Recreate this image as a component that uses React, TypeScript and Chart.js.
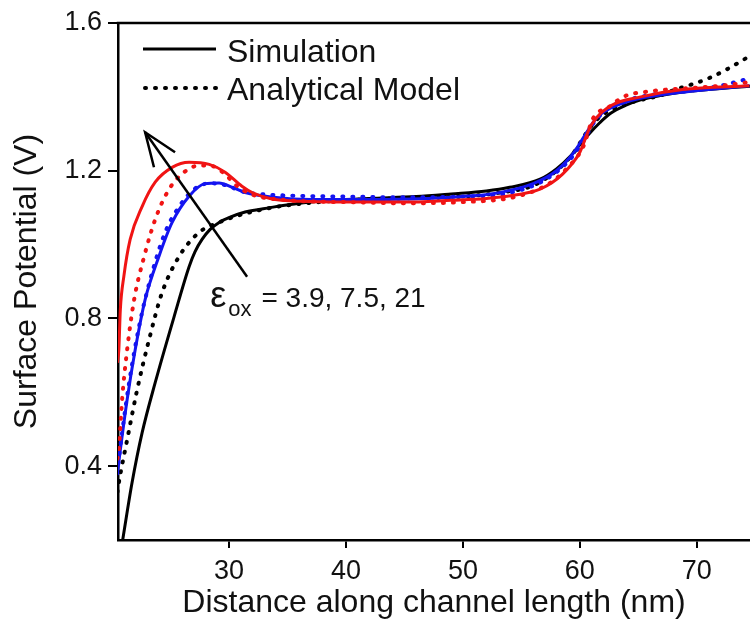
import React, { useEffect, useRef } from "react";
import { Chart, registerables } from "chart.js";

Chart.register(...registerables);

// ---- axis setup ----
const xTickValues = [30, 40, 50, 60, 70];
const yTickValues = [0.4, 0.8, 1.2, 1.6];
const xMin = 20.5;
const xMax = 74.55;
const yMin = 0.2;
const yMax = 1.6;
const xTitle = "Distance along channel length (nm)";
const yTitle = "Surface Potential (V)";
const legendLabels = ["Simulation", "Analytical Model"];
const annotationSymbol = "ε";
const annotationSub = "ox";
const annotationValues = "= 3.9, 7.5, 21";
// arrow (data coordinates): tail -> tip
const arrowTail = [31.54, 0.913];
const arrowTip = [22.82, 1.304];
const annotationAnchor = [28.38, 0.832];

// ---- series: [x (nm), surface potential (V)] ----
const sim39: number[][] = [
  [20.9, 0.2], [21.7, 0.355], [22.56, 0.49], [23.68, 0.626], [25.3, 0.805], [26.58, 0.94],
  [27.09, 0.981], [27.69, 1.014], [28.38, 1.041], [29.15, 1.06], [30.09, 1.074], [31.37, 1.088],
  [33.5, 1.1], [36.0, 1.112], [38.9, 1.12],
  [42.0, 1.125], [46.0, 1.13], [49.0, 1.137], [52.0, 1.145], [54.0, 1.155], [56.6, 1.177],
  [58.0, 1.205], [59.2, 1.24], [60.0, 1.27], [60.8, 1.3], [61.7, 1.33], [62.6, 1.355],
  [64.0, 1.378], [65.2, 1.392], [67.0, 1.404], [69.0, 1.414], [71.0, 1.42], [73.0, 1.425],
  [75.0, 1.43],
];
const model39: number[][] = [
  [20.45, 0.33], [20.57, 0.355], [21.28, 0.471], [22.14, 0.607], [23.16, 0.743], [24.27, 0.87],
  [25.73, 0.968], [27.44, 1.033], [29.15, 1.06], [30.5, 1.076], [33.3, 1.098], [36.0, 1.11],
  [40.0, 1.12], [45.0, 1.125], [50.0, 1.13], [53.0, 1.14], [56.0, 1.16], [58.0, 1.2],
  [59.5, 1.25], [60.5, 1.3], [61.5, 1.34], [63.0, 1.37], [65.0, 1.39], [67.0, 1.405],
  [68.0, 1.418], [69.4, 1.432], [71.0, 1.45], [72.6, 1.475], [74.5, 1.51],
];
const sim75: number[][] = [
  [20.45, 0.38], [20.7, 0.444], [21.28, 0.58], [21.97, 0.715], [22.82, 0.851], [24.0, 0.968],
  [25.13, 1.06], [26.58, 1.131], [27.95, 1.165], [29.15, 1.167], [30.26, 1.155], [31.37, 1.141],
  [33.8, 1.128], [37.0, 1.122], [42.0, 1.122], [47.0, 1.125], [50.0, 1.13], [53.0, 1.14],
  [56.0, 1.165], [58.0, 1.2], [59.5, 1.25], [60.5, 1.3], [61.5, 1.345], [63.0, 1.375],
  [65.0, 1.395], [68.0, 1.41], [71.0, 1.42], [74.5, 1.43],
];
const model75: number[][] = [
  [20.43, 0.38], [20.85, 0.49], [21.45, 0.626], [22.3, 0.778], [23.25, 0.905], [24.53, 1.033],
  [25.73, 1.103], [27.1, 1.152], [28.4, 1.166], [29.8, 1.16], [31.2, 1.143], [33.0, 1.136],
  [36.0, 1.132], [40.0, 1.13], [45.0, 1.128], [50.0, 1.13], [54.0, 1.14], [57.0, 1.175],
  [59.0, 1.225], [60.3, 1.28], [61.2, 1.33], [62.5, 1.37], [64.0, 1.39], [66.0, 1.405],
  [69.0, 1.415], [72.0, 1.43], [74.5, 1.45],
];
const sim21: number[][] = [
  [20.45, 0.68], [20.57, 0.715], [20.7, 0.824], [21.0, 0.914], [21.54, 1.014], [22.56, 1.103],
  [23.68, 1.169], [25.13, 1.209], [26.58, 1.223], [28.3, 1.217], [29.66, 1.196], [31.1, 1.158],
  [31.97, 1.141], [33.5, 1.125], [36.1, 1.117], [40.0, 1.115], [45.0, 1.115], [49.0, 1.12],
  [52.0, 1.125], [54.6, 1.135], [56.6, 1.15], [58.5, 1.19], [60.0, 1.25], [60.9, 1.32],
  [62.6, 1.375], [65.2, 1.4], [68.8, 1.42], [74.5, 1.43],
];
const model21: number[][] = [
  [20.45, 0.42], [20.57, 0.444], [20.85, 0.58], [21.28, 0.715], [21.88, 0.851], [22.74, 0.968],
  [23.68, 1.068], [24.87, 1.15], [26.15, 1.196], [27.44, 1.214], [28.5, 1.213], [29.6, 1.192],
  [30.7, 1.158], [32.0, 1.135], [35.0, 1.12], [40.0, 1.115], [45.0, 1.112], [50.0, 1.115],
  [54.6, 1.13], [57.5, 1.168], [59.0, 1.21], [60.3, 1.266], [61.1, 1.34], [62.6, 1.375],
  [63.7, 1.4], [66.0, 1.415], [70.0, 1.425], [72.0, 1.43], [74.5, 1.44],
];

const RED = "#f01414";
const BLUE = "#1414f0";
const BLACK = "#000000";
const FONT = "'Liberation Sans', Arial, Helvetica, sans-serif";
const DOT_DASH = [1, 9];

const toPts = (arr: number[][]) => arr.map(([x, y]) => ({ x, y }));

const overlayPlugin = {
  id: "overlay",
  afterDraw(chart: any) {
    const { ctx, chartArea, scales } = chart;
    const sx = scales.x;
    const sy = scales.y;
    ctx.save();
    // top frame line
    ctx.strokeStyle = BLACK;
    ctx.lineWidth = 2.5;
    ctx.beginPath();
    ctx.moveTo(chartArea.left - 1.25, chartArea.top);
    ctx.lineTo(chartArea.right, chartArea.top);
    ctx.stroke();

    // legend
    const lx0 = chartArea.left + 25;
    const lx1 = chartArea.left + 98;
    const ly0 = chartArea.top + 26;
    const ly1 = chartArea.top + 65;
    ctx.lineWidth = 3;
    ctx.setLineDash([]);
    ctx.lineCap = "butt";
    ctx.beginPath();
    ctx.moveTo(lx0, ly0);
    ctx.lineTo(lx1, ly0);
    ctx.stroke();
    ctx.lineWidth = 4;
    ctx.lineCap = "round";
    ctx.setLineDash(DOT_DASH);
    ctx.beginPath();
    ctx.moveTo(lx0 + 2, ly1);
    ctx.lineTo(lx1, ly1);
    ctx.stroke();
    ctx.setLineDash([]);
    ctx.fillStyle = "#111";
    ctx.font = `32px ${FONT}`;
    ctx.textBaseline = "alphabetic";
    ctx.textAlign = "left";
    ctx.fillText(legendLabels[0], chartArea.left + 109, ly0 + 13);
    ctx.fillText(legendLabels[1], chartArea.left + 109, ly1 + 12);

    // arrow
    const tx = sx.getPixelForValue(arrowTail[0]);
    const ty = sy.getPixelForValue(arrowTail[1]);
    const px = sx.getPixelForValue(arrowTip[0]);
    const py = sy.getPixelForValue(arrowTip[1]);
    ctx.strokeStyle = BLACK;
    ctx.lineWidth = 2.5;
    ctx.lineCap = "butt";
    ctx.beginPath();
    ctx.moveTo(tx, ty);
    ctx.lineTo(px, py);
    ctx.stroke();
    const ang = Math.atan2(ty - py, tx - px);
    const headLen = 36;
    const spread = (21 * Math.PI) / 180;
    ctx.beginPath();
    ctx.moveTo(px + headLen * Math.cos(ang - spread), py + headLen * Math.sin(ang - spread));
    ctx.lineTo(px, py);
    ctx.lineTo(px + headLen * Math.cos(ang + spread), py + headLen * Math.sin(ang + spread));
    ctx.stroke();

    // annotation text
    const ax = sx.getPixelForValue(annotationAnchor[0]);
    const ay = sy.getPixelForValue(annotationAnchor[1]);
    ctx.fillStyle = "#111";
    ctx.font = `36px ${FONT}`;
    ctx.fillText(annotationSymbol, ax, ay);
    const w1 = ctx.measureText(annotationSymbol).width;
    ctx.font = `22px ${FONT}`;
    ctx.fillText(annotationSub, ax + w1 + 2, ay + 9);
    const w2 = ctx.measureText(annotationSub).width;
    ctx.font = `28px ${FONT}`;
    ctx.fillText(annotationValues, ax + w1 + w2 + 12, ay);
    ctx.restore();
  },
};

export default function App() {
  const canvasRef = useRef<HTMLCanvasElement | null>(null);

  useEffect(() => {
    if (!canvasRef.current) return;
    const solid = (data: number[][], color: string, order: number) => ({
      data: toPts(data),
      borderColor: color,
      backgroundColor: color,
      borderWidth: 3,
      pointRadius: 0,
      fill: false,
      cubicInterpolationMode: "monotone" as const,
      order,
    });
    const dotted = (data: number[][], color: string, order: number) => ({
      data: toPts(data),
      borderColor: color,
      backgroundColor: color,
      borderWidth: 4,
      borderDash: DOT_DASH,
      borderCapStyle: "round" as const,
      pointRadius: 0,
      fill: false,
      cubicInterpolationMode: "monotone" as const,
      order,
    });

    const chart = new Chart(canvasRef.current, {
      type: "line",
      data: {
        datasets: [
          { label: "Simulation εox=21", ...solid(sim21, RED, 1) },
          { label: "Model εox=21", ...dotted(model21, RED, 2) },
          { label: "Simulation εox=7.5", ...solid(sim75, BLUE, 3) },
          { label: "Model εox=7.5", ...dotted(model75, BLUE, 4) },
          { label: "Simulation εox=3.9", ...solid(sim39, BLACK, 5) },
          { label: "Model εox=3.9", ...dotted(model39, BLACK, 6) },
        ],
      },
      options: {
        animation: false,
        responsive: true,
        maintainAspectRatio: false,
        layout: { padding: { top: 23, right: 0, left: 0, bottom: 0 } },
        plugins: {
          legend: { display: false },
          tooltip: { enabled: false },
        },
        scales: {
          x: {
            type: "linear",
            min: xMin,
            max: xMax,
            afterFit: (scale: any) => {
              scale.height = 87;
            },
            afterBuildTicks: (scale: any) => {
              scale.ticks = xTickValues.map((v) => ({ value: v }));
            },
            grid: {
              display: true,
              drawOnChartArea: false,
              drawTicks: true,
              tickLength: 8,
              color: BLACK,
              lineWidth: 2,
            },
            border: { display: true, color: BLACK, width: 2.5 },
            ticks: {
              padding: 7,
              color: "#111",
              font: { family: FONT, size: 27 },
              maxRotation: 0,
              callback: (v: any) => String(v),
            },
            title: {
              display: true,
              text: xTitle,
              color: "#111",
              font: { family: FONT, size: 32 },
              padding: { top: 0, bottom: 5 },
            },
          },
          y: {
            type: "linear",
            min: yMin,
            max: yMax,
            afterFit: (scale: any) => {
              scale.width = 118;
            },
            afterBuildTicks: (scale: any) => {
              scale.ticks = yTickValues.map((v) => ({ value: v }));
            },
            grid: {
              display: true,
              drawOnChartArea: false,
              drawTicks: true,
              tickLength: 10,
              color: BLACK,
              lineWidth: 2,
            },
            border: { display: true, color: BLACK, width: 2.5 },
            ticks: {
              padding: 6,
              color: "#111",
              font: { family: FONT, size: 27 },
              callback: (v: any) => Number(v).toFixed(1),
            },
            title: {
              display: true,
              text: yTitle,
              color: "#111",
              font: { family: FONT, size: 32 },
              padding: { top: 8, bottom: 0 },
            },
          },
        },
      },
      plugins: [overlayPlugin],
    });
    return () => chart.destroy();
  }, []);

  return (
    <div style={{ position: "absolute", left: 0, top: 0, width: 750, height: 627, background: "#fff" }}>
      <canvas ref={canvasRef} />
    </div>
  );
}
